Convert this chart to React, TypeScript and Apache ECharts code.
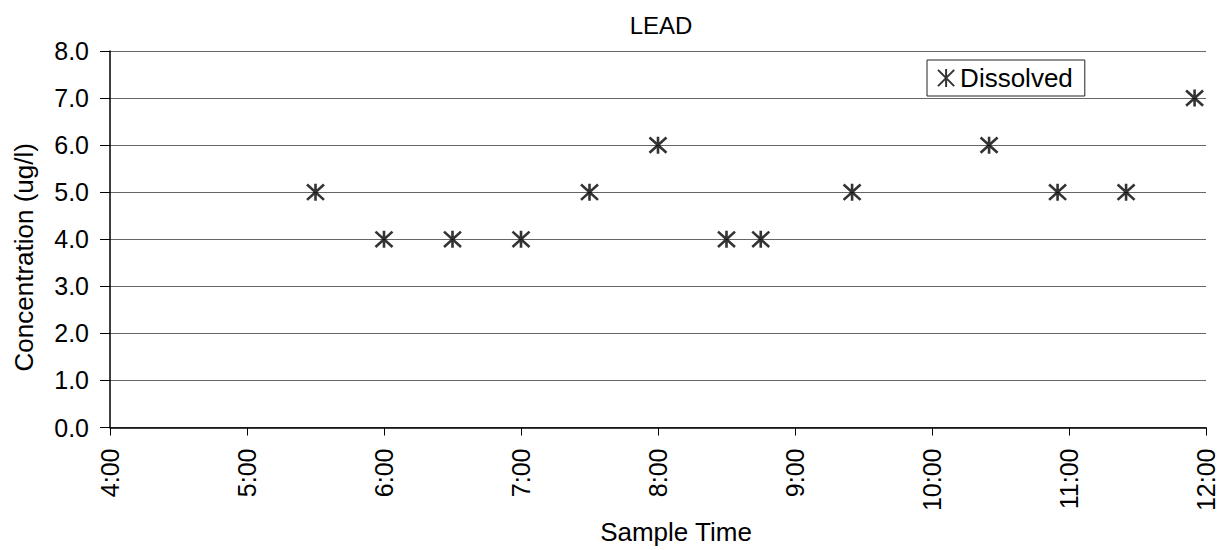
import React, { useEffect, useRef } from "react";
import * as echarts from "echarts";

const sampleTimes = ["5:30", "6:00", "6:30", "7:00", "7:30", "8:00", "8:30", "8:45", "9:25", "10:25", "10:55", "11:25", "11:55"];
const dissolved = [5, 4, 4, 4, 5, 6, 4, 4, 5, 6, 5, 5, 7];
const yTicks = [0, 1, 2, 3, 4, 5, 6, 7, 8];
const xTickHours = [4, 5, 6, 7, 8, 9, 10, 11, 12];

const toHours = (t: string) => {
  const [h, m] = t.split(":").map(Number);
  return h + m / 60;
};

const STAR = "path://M10,0 L10,20 M1,1 L19,19 M1,19 L19,1";
const FONT = "'Liberation Sans', Arial, sans-serif";

export default function App() {
  const ref = useRef<HTMLDivElement>(null);
  useEffect(() => {
    if (!ref.current) return;
    const chart = echarts.init(ref.current, null, { renderer: "svg" });
    chart.setOption({
      animation: false,
      backgroundColor: "#ffffff",
      textStyle: { fontFamily: FONT, color: "#000" },
      title: {
        text: "LEAD",
        left: 656,
        top: 8,
        textAlign: "center",
        textStyle: { fontFamily: FONT, fontSize: 24, fontWeight: "normal", color: "#000" },
      },
      legend: {
        data: ["Dissolved"],
        left: 927,
        top: 60,
        orient: "horizontal",
        borderColor: "#222",
        borderWidth: 1,
        backgroundColor: "#fff",
        padding: [5, 12, 5, 10],
        itemWidth: 18,
        itemHeight: 18,
        itemGap: 0,
        textStyle: { fontFamily: FONT, fontSize: 26, color: "#000" },
      },
      grid: { left: 110, right: 23, top: 51, bottom: 118, containLabel: false },
      xAxis: {
        type: "value",
        min: xTickHours[0],
        max: xTickHours[xTickHours.length - 1],
        interval: 1,
        name: "Sample Time",
        nameLocation: "middle",
        nameGap: 90,
        nameTextStyle: { fontFamily: FONT, fontSize: 26, color: "#000", padding: [0, 0, 0, 36] },
        axisLine: { show: true, lineStyle: { color: "#000", width: 1.5 } },
        axisTick: { show: true, inside: false, length: 8, lineStyle: { color: "#000" } },
        splitLine: { show: false },
        axisLabel: {
          rotate: 90,
          margin: 21,
          fontFamily: FONT,
          fontSize: 25,
          color: "#000",
          formatter: (v: number) => `${v}:00`,
        },
      },
      yAxis: {
        type: "value",
        min: yTicks[0],
        max: yTicks[yTicks.length - 1],
        interval: 1,
        name: "Concentration (ug/l)",
        nameLocation: "middle",
        nameGap: 73,
        nameTextStyle: { fontFamily: FONT, fontSize: 26, color: "#000", padding: [0, 36, 0, 0] },
        axisLine: { show: true, lineStyle: { color: "#000", width: 1.5 } },
        axisTick: { show: true, inside: false, length: 10, lineStyle: { color: "#000" } },
        splitLine: { show: true, lineStyle: { color: "#666", width: 1 } },
        axisLabel: {
          margin: 21,
          fontFamily: FONT,
          fontSize: 25,
          color: "#000",
          formatter: (v: number) => v.toFixed(1),
        },
      },
      series: [
        {
          name: "Dissolved",
          type: "scatter",
          symbol: STAR,
          symbolSize: 17,
          itemStyle: { color: "transparent", borderColor: "#000", borderWidth: 2.6 },
          data: sampleTimes.map((t, i) => [toHours(t), dissolved[i]]),
        },
      ],
    });
    return () => chart.dispose();
  }, []);
  return <div ref={ref} style={{ position: "fixed", left: 0, top: 0, width: 1229, height: 550 }} />;
}
